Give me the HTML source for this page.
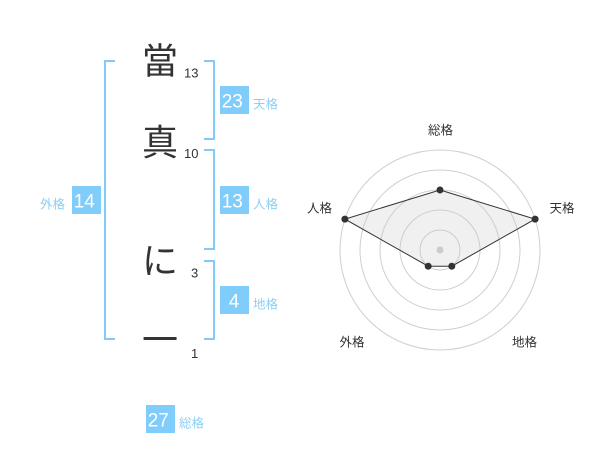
<!DOCTYPE html>
<html><head><meta charset="utf-8">
<style>
html,body{margin:0;padding:0;background:#fff;}
body{width:600px;height:470px;overflow:hidden;position:relative;}
svg{position:absolute;left:0;top:0;}
</style></head>
<body>
<svg width="600" height="470" viewBox="0 0 600 470" xmlns="http://www.w3.org/2000/svg">
  <!-- brackets -->
  <g stroke="#80cbfa" stroke-width="2" fill="none">
    <polyline points="115,61 105,61 105,339 115,339"/>
    <polyline points="204,61 214,61 214,139 204,139"/>
    <polyline points="204,150 214,150 214,249 204,249"/>
    <polyline points="204,261 214,261 214,339 204,339"/>
  </g>
  <!-- big characters -->
  <g font-family="'Liberation Sans','Noto Sans CJK JP',sans-serif" font-size="36" fill="#333" text-anchor="middle">
    <text x="160" y="73.5">當</text>
    <text x="160" y="155">真</text>
    <text x="160" y="273.5">に</text>
    <text x="160" y="352.5">一</text>
  </g>
  <!-- stroke counts -->
  <g font-family="'Liberation Sans',sans-serif" font-size="13" fill="#333">
    <text x="184" y="77.5">13</text>
    <text x="184" y="158">10</text>
    <text x="191" y="277.5">3</text>
    <text x="191" y="358">1</text>
  </g>
  <!-- boxes -->
  <g fill="#80ccfb">
    <rect x="220" y="86" width="29" height="28"/>
    <rect x="220" y="186" width="29" height="28"/>
    <rect x="220" y="286" width="29" height="28"/>
    <rect x="72" y="186" width="29" height="28"/>
    <rect x="146" y="405" width="29" height="28"/>
  </g>
  <g font-family="'Liberation Sans',sans-serif" font-size="19" fill="#fff">
    <text x="221.7" y="107.5">23</text>
    <text x="221.7" y="207.5">13</text>
    <text x="234" y="307.5" text-anchor="middle">4</text>
    <text x="73.7" y="207.5">14</text>
    <text x="147.7" y="426.5">27</text>
  </g>
  <g font-family="'Liberation Sans','Noto Sans CJK JP',sans-serif" font-size="12.5" fill="#8ccff8">
    <text x="253" y="108.5">天格</text>
    <text x="253" y="208.5">人格</text>
    <text x="253" y="308.5">地格</text>
    <text x="40" y="208.5">外格</text>
    <text x="179" y="427.5">総格</text>
  </g>
  <!-- radar -->
  <g stroke="#cfcfcf" stroke-width="1" fill="none">
    <circle cx="440" cy="250" r="100"/>
    <circle cx="440" cy="250" r="80"/>
    <circle cx="440" cy="250" r="60"/>
    <circle cx="440" cy="250" r="40"/>
    <circle cx="440" cy="250" r="20"/>
  </g>
  <circle cx="440" cy="250" r="3.5" fill="#cccccc"/>
  <polygon points="440,190 535.1,219.1 451.8,266.2 428.2,266.2 344.9,219.1" fill="rgba(200,200,200,0.28)" stroke="#333" stroke-width="1"/>
  <g fill="#333">
    <circle cx="440" cy="190" r="3.5"/>
    <circle cx="535.1" cy="219.1" r="3.5"/>
    <circle cx="451.8" cy="266.2" r="3.5"/>
    <circle cx="428.2" cy="266.2" r="3.5"/>
    <circle cx="344.9" cy="219.1" r="3.5"/>
  </g>
  <g font-family="'Liberation Sans','Noto Sans CJK JP',sans-serif" font-size="12.5" fill="#333" text-anchor="middle">
    <text x="440.5" y="134.5">総格</text>
    <text x="562" y="212.5">天格</text>
    <text x="319.5" y="212.5">人格</text>
    <text x="352" y="346.5">外格</text>
    <text x="524.5" y="346.5">地格</text>
  </g>
</svg>
</body></html>
